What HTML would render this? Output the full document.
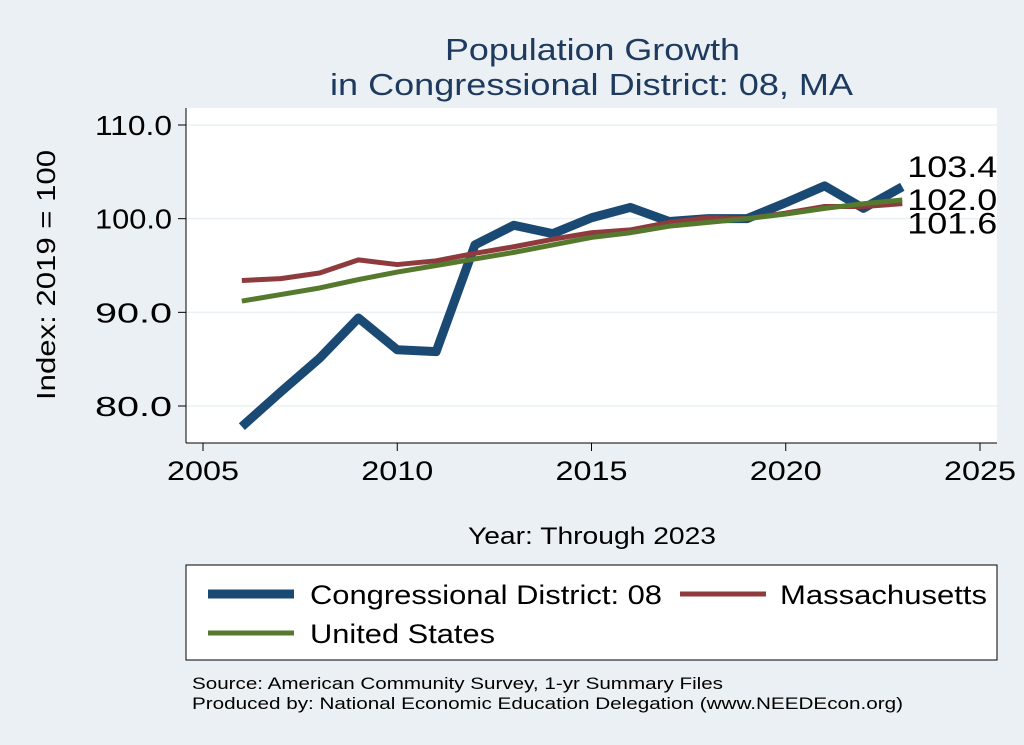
<!DOCTYPE html>
<html><head><meta charset="utf-8"><style>
body{margin:0;background:#eaf0f3;}
svg{display:block;font-family:"Liberation Sans",sans-serif;}
</style></head><body>
<svg id="c" width="1024" height="745" viewBox="0 0 1024 745">
<rect x="0" y="0" width="1024" height="745" fill="#eaf0f3"/>
<rect x="186" y="108" width="811" height="335" fill="#ffffff"/>
<text x="445" y="60" font-size="31" fill="#1e3a5f" textLength="295" lengthAdjust="spacingAndGlyphs">Population Growth</text>
<text x="330" y="95" font-size="31" fill="#1e3a5f" textLength="523" lengthAdjust="spacingAndGlyphs">in Congressional District: 08, MA</text>
<g id="grid"></g><g id="axes"></g><g id="series"></g>
<text x="468" y="544" font-size="24" textLength="248" lengthAdjust="spacingAndGlyphs">Year: Through 2023</text>
<text transform="translate(55,400) rotate(-90)" font-size="26" textLength="250" lengthAdjust="spacingAndGlyphs">Index: 2019 = 100</text>
<rect x="186" y="565" width="811" height="95" fill="#ffffff" stroke="#000" stroke-width="1"/>
<g><line x1="208" y1="594" x2="294" y2="594" stroke="#1a4a74" stroke-width="9"/><text x="310" y="604" font-size="27" textLength="352" lengthAdjust="spacingAndGlyphs">Congressional District: 08</text></g>
<g><line x1="680" y1="594" x2="766" y2="594" stroke="#8f3a3c" stroke-width="5"/><text x="780" y="604" font-size="27" textLength="207" lengthAdjust="spacingAndGlyphs">Massachusetts</text></g>
<g><line x1="208" y1="633" x2="294" y2="633" stroke="#557a2e" stroke-width="5"/><text x="310" y="643" font-size="27" textLength="185" lengthAdjust="spacingAndGlyphs">United States</text></g>
<text x="192" y="689" font-size="17" textLength="531" lengthAdjust="spacingAndGlyphs">Source: American Community Survey, 1-yr Summary Files</text>
<text x="192" y="709" font-size="17" textLength="711" lengthAdjust="spacingAndGlyphs">Produced by: National Economic Education Delegation (www.NEEDEcon.org)</text>
</svg>
<script>
const years=[2006,2007,2008,2009,2010,2011,2012,2013,2014,2015,2016,2017,2018,2019,2020,2021,2022,2023];
const cd08=[77.8,81.5,85.1,89.4,86.0,85.8,97.2,99.3,98.4,100.1,101.2,99.7,100.0,100.0,101.7,103.5,101.1,103.4];
const ma=[93.4,93.6,94.2,95.6,95.1,95.5,96.3,97.0,97.8,98.5,98.8,99.6,100.1,100.0,100.6,101.3,101.3,101.6];
const us=[91.2,91.9,92.6,93.5,94.3,95.0,95.7,96.4,97.2,98.0,98.5,99.2,99.6,100.0,100.5,101.1,101.6,102.0];
const xTicks=[2005,2010,2015,2020,2025];
const yTicks=[80,90,100,110];
const NS="http://www.w3.org/2000/svg";
function X(v){return 203+(v-2005)*(980-203)/20;}
function Y(v){return 406-(v-80)*(406-125)/30;}
function mk(t,a,p){const e=document.createElementNS(NS,t);for(const k in a)e.setAttribute(k,a[k]);p.appendChild(e);return e;}
const grid=document.getElementById('grid'),axes=document.getElementById('axes'),ser=document.getElementById('series');
mk('line',{x1:186,y1:108,x2:186,y2:443,stroke:'#000','stroke-width':1},axes);
mk('line',{x1:186,y1:443,x2:997,y2:443,stroke:'#000','stroke-width':1},axes);
yTicks.forEach(v=>{
 const g=mk('line',{x1:186,y1:Y(v),x2:997,y2:Y(v),stroke:'#eaf0f3','stroke-width':1.5},grid);
 
 mk('line',{x1:178,y1:Y(v),x2:186,y2:Y(v),stroke:'#000'},axes);
 const t=mk('text',{x:172-77,y:Y(v)+10,'font-size':28,textLength:77,lengthAdjust:'spacingAndGlyphs'},axes);t.textContent=v.toFixed(1);
 
});
xTicks.forEach(v=>{
 mk('line',{x1:X(v),y1:443,x2:X(v),y2:451,stroke:'#000'},axes);
 const t=mk('text',{x:X(v)-36,y:480,'font-size':27,textLength:72,lengthAdjust:'spacingAndGlyphs'},axes);t.textContent=v;
 
});
function line(d,c,w,n){
 const p=mk('polyline',{points:d.map((v,i)=>X(years[i])+','+Y(v)).join(' '),fill:'none',stroke:c,'stroke-width':w,'stroke-linejoin':'round'},ser);
 
}
line(cd08,'#1a4a74',9,'line-cd08');
line(ma,'#8f3a3c',5,'line-massachusetts');
line(us,'#557a2e',5,'line-united-states');
const last=years.length-1;
[[cd08[last],-10],[us[last],10],[ma[last],30]].forEach(([v,dy])=>{
 const t=mk('text',{x:X(2023)+5,y:Y(v)+dy,'font-size':30,textLength:90,lengthAdjust:'spacingAndGlyphs'},ser);t.textContent=v.toFixed(1);
 
});
</script>
</body></html>
